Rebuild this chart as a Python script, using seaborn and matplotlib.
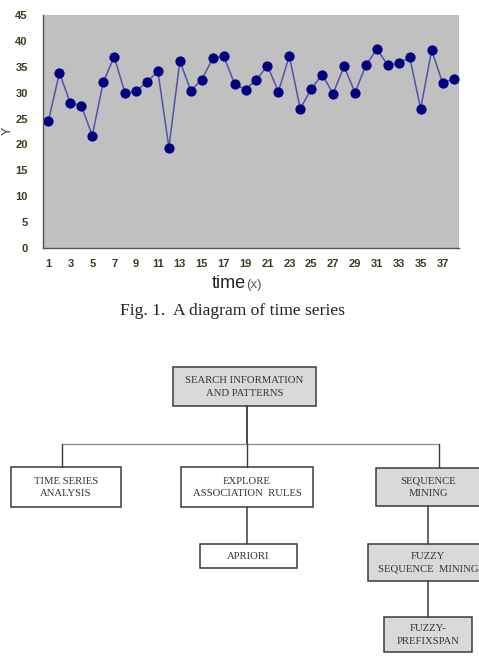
import matplotlib
matplotlib.use("Agg")
import matplotlib.pyplot as plt
import numpy as np
import pandas as pd
import seaborn as sns
from matplotlib.patches import Rectangle

# Time series values
TIME = list(range(1, 39))
Y_VALUES = [24.6, 33.8, 28.0, 27.5, 21.7, 32.0, 36.9, 29.9, 30.3, 32.1,
            34.1, 19.4, 36.1, 30.4, 32.5, 36.6, 37.1, 31.7, 30.6, 32.5,
            35.2, 30.2, 37.1, 26.9, 30.7, 33.5, 29.8, 35.1, 30.0, 35.3,
            38.4, 35.3, 35.7, 36.8, 26.9, 38.2, 31.9, 32.6]
Y_TICKS = [0, 5, 10, 15, 20, 25, 30, 35, 40, 45]
X_TICK_LABELS = [str(t) for t in TIME if t % 2 == 1]

CAPTION = "Fig. 1.  A diagram of time series"

# Diagram boxes: label, fill
BOX_LABELS = ["SEARCH INFORMATION\nAND PATTERNS", "TIME SERIES\nANALYSIS",
              "EXPLORE\nASSOCIATION  RULES", "SEQUENCE\nMINING", "APRIORI",
              "FUZZY\nSEQUENCE  MINING", "FUZZY-\nPREFIXSPAN"]
BOX_GRAY = [True, False, False, True, False, True, True]

# layout of the diagram in pixel space (x0, y0, x1, y1)
BOX_LAYOUT = [(173, 367, 316, 406), (11, 467, 121, 507), (181, 467, 313, 507),
              (376, 468, 495, 506), (200, 544, 297, 568), (368, 544, 495, 581),
              (384, 617, 472, 652)]
TEXT_X = [244.5, 66, 247, 428, 248.5, 428, 428]

W, H = 479, 667
sns.set_style("white")
plt.rcParams['font.family'] = ['Liberation Sans', 'DejaVu Sans']

fig = plt.figure(figsize=(W / 100, H / 100), dpi=100)

# ---- time series chart ----
ax = fig.add_axes([43 / W, 1 - 248 / H, (459 - 43) / W, (248 - 15) / H])
ax.set_facecolor("#c0c0c0")
df = pd.DataFrame({"time": TIME, "Y": Y_VALUES})
sns.lineplot(data=df, x="time", y="Y", ax=ax, color="#5252a8", linewidth=1.1,
             marker="o", markersize=6.6, markerfacecolor="#000080",
             markeredgecolor="#000080")

ax.set_xlim(0.5, 38.5)
ax.set_ylim(0, 45)
ax.set_yticks(Y_TICKS)
ax.set_yticklabels([str(v) for v in Y_TICKS], fontsize=8, fontweight="bold",
                   color="#3c3c1e")
# ticks sit between categories, labels on odd categories
ax.set_xticks(np.arange(0.5, 39, 1.0))
ax.set_xticklabels([])
ax.set_xticks([t for t in TIME if t % 2 == 1], minor=True)
ax.set_xticklabels(X_TICK_LABELS, minor=True, fontsize=8, fontweight="bold",
                   color="#3c3c1e")
ax.tick_params(axis="x", which="major", length=3, width=0.8, color="#555555",
               direction="out")
ax.tick_params(axis="x", which="minor", length=0, pad=8)
ax.tick_params(axis="y", length=3, width=0.8, color="#555555", pad=8)
for s in ["top", "right"]:
    ax.spines[s].set_visible(False)
for s in ["left", "bottom"]:
    ax.spines[s].set_color("#555555")
    ax.spines[s].set_linewidth(1.0)
ax.set_xlabel("")
ax.set_ylabel("")

fig.text(8 / W, 1 - 131 / H, "Y", rotation=90, ha="center", va="center",
         fontsize=9, color="#333333")
fig.text(246 / W, 1 - 284 / H, "time", ha="right", va="center", fontsize=13,
         color="#222222")
fig.text(246 / W, 1 - 285 / H, "(x)", ha="left", va="center", fontsize=9.5,
         color="#555555")
fig.text(233 / W, 1 - 311 / H, CAPTION, ha="center", va="center",
         fontsize=12.6, family="Liberation Serif", color="#222222")

# ---- diagram ----
dx = fig.add_axes([0, 0, 1, 1], zorder=-1)
dx.set_xlim(0, W)
dx.set_ylim(H, 0)
dx.axis("off")
dark = "#3a3a3a"
# connectors
dx.plot([247, 247], [406, 444], color=dark, lw=1.3)
dx.plot([62, 439], [444, 444], color="#8a8a8a", lw=0.9)
for xs in (62, 247, 439):
    dx.plot([xs, xs], [444, 467], color=dark, lw=1.0)
dx.plot([247, 247], [507, 544], color=dark, lw=1.1)
dx.plot([428, 428], [506, 544], color=dark, lw=1.1)
dx.plot([428, 428], [581, 617], color=dark, lw=1.1)

for label, gray, (x0, y0, x1, y1), tx in zip(BOX_LABELS, BOX_GRAY,
                                             BOX_LAYOUT, TEXT_X):
    dx.add_patch(Rectangle((x0, y0), x1 - x0, y1 - y0,
                           facecolor="#d9d9d9" if gray else "white",
                           edgecolor=dark, lw=1.1))
    dx.text(tx, (y0 + y1) / 2 + 0.5, label, ha="center", va="center",
            fontsize=7.7, family="Liberation Serif", color="#333333",
            linespacing=1.45)

fig.savefig("out.png", dpi=100)
